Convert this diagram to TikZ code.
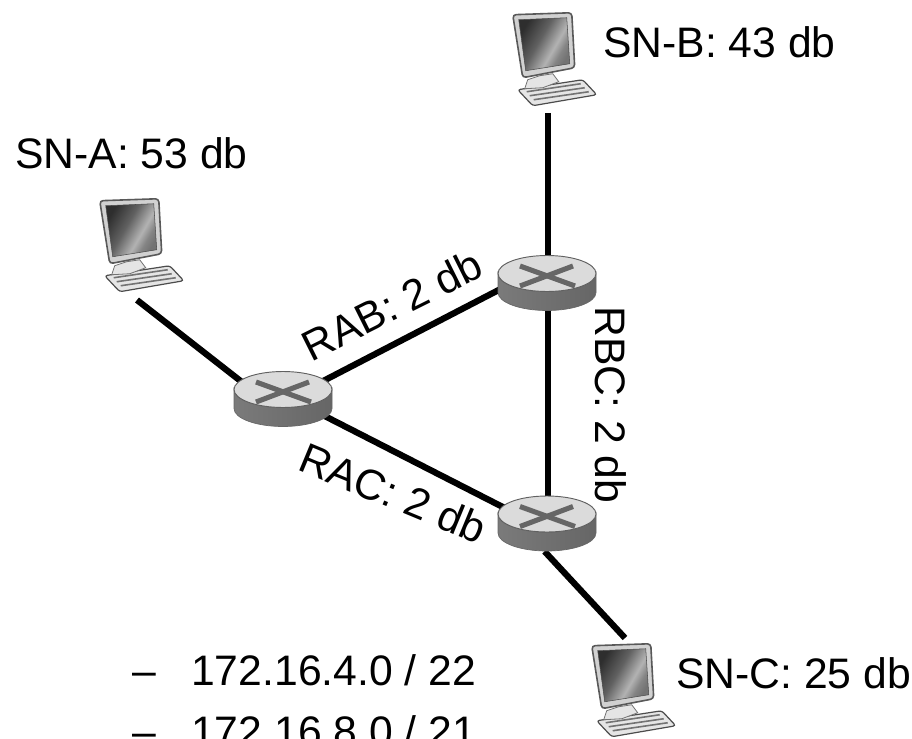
\documentclass[tikz,border=0pt]{standalone}
\usepackage{fontspec}
\setmainfont{Liberation Sans}
\usetikzlibrary{shapes.geometric}
\pgfdeclarehorizontalshading{screenshade}{100bp}{color(0bp)=(black!82); color(25bp)=(black!82); color(44bp)=(black!62); color(60bp)=(black!30); color(68bp)=(black!48); color(75bp)=(black!55); color(100bp)=(black!55)}
\tikzset{
  x=0.75pt,y=-0.75pt,
  link/.style={line width=4.7pt,black},
  lbl/.style={font=\fontsize{32pt}{36pt}\selectfont,inner sep=0pt,text=black},
  routerbox/.style={ellipse,minimum width=73.5pt,minimum height=41.5pt,inner sep=0pt},
  compbox/.style={rectangle,minimum width=63pt,minimum height=70.5pt,inner sep=0pt},
  pics/router/.style={code={
    \shade[left color=black!52,middle color=black!12,right color=black!60,draw=black!60,line width=.5pt]
      (-49,-9.5) -- (-49,9.5) arc[start angle=180,end angle=0,x radius=49,y radius=18] -- (49,-9.5)
      arc[start angle=0,end angle=180,x radius=49,y radius=18] -- cycle;
    \fill[black!14,draw=black!62,line width=.7pt] (0,-9.5) ellipse[x radius=49,y radius=18];
    \draw[black!60,line width=3.8pt] (-27,-17) -- (28,3);
    \draw[black!60,line width=3.8pt] (26,-17) -- (-27,3);
  }},
  pics/computer/.style={code={
    % keyboard
    \fill[black!10,draw=black!70,line width=.9pt,rounded corners=2pt] (5,78) -- (70,68) -- (84,83) -- (20,94) -- cycle;
    \draw[black!55,line width=1.2pt] (14,80) -- (68,72) (17,84) -- (72,76) (21,88) -- (76,80);
    % stand
    \fill[black!10,draw=black!55,line width=.6pt] (12,77) -- (15,68) -- (27,64) -- (40,62) -- (46,70) -- (30,76) -- cycle;
    % monitor
    \fill[black!18,draw=black!65,line width=1.2pt,rounded corners=2.5pt] (0,3) -- (59,1) -- (62,56) -- (10,66) -- cycle;
    \shade[shading=screenshade,shading angle=-30,draw=black!70,line width=.4pt]
      (6,8) -- (54,6) -- (57,52) -- (13,59) -- cycle;
  }}
}
\begin{document}
\begin{tikzpicture}
\useasboundingbox (0,0) rectangle (912,738);
\clip (0,0) rectangle (912,738);
\node[compbox] (cB) at (555,59) {};
\node[compbox] (cA) at (142,245) {};
\node[compbox] (cC) at (634,690) {};
\node[routerbox] (rA) at (283,399) {};
\node[routerbox] (rB) at (547,283) {};
\node[routerbox] (rC) at (547,523.5) {};
\coordinate (eB) at (548,113);
\coordinate (eA) at (137,300);
\coordinate (eC) at (625,638);
\pic at (cB.north west) {computer};
\pic at (cA.north west) {computer};
\pic at (cC.north west) {computer};
\draw[link] (eB) -- (eB |- rB.north);
\draw[link] (eA) -- (rA.158);
\draw[link] (eB |- rB.south) -- (eB |- rC.north);
\draw[link] (rA.24) -- (rB.188);
\draw[link] (rA.-22) -- (rC.160);
\draw[link] (rC.-95) -- (eC);
\pic at (rA) {router};
\pic at (rB) {router};
\pic at (rC) {router};
\node[lbl,anchor=base west] (tB) at (603,58) {SN-B: 43 db};
\node[lbl,anchor=base west] (tA) at (15,168) {SN-A: 53 db};
\node[lbl,anchor=base west] (tC) at (676,688) {SN-C: 25 db};
\node[lbl,rotate=26.5] (tAB) at (392,305) {RAB: 2 db};
\node[lbl,rotate=-22.5] (tAC) at (393,493) {RAC: 2 db};
\node[lbl,rotate=-90,anchor=base] (tBC) at (595,405) {RBC: 2 db};
\node[lbl,anchor=base west] (d1) at (132,685) {–};
\node[lbl,anchor=base west] (l1) at (191,685) {172.16.4.0 / 22};
\node[lbl,anchor=base west] (d2) at (132,746) {–};
\node[lbl,anchor=base west] (l2) at (191,746) {172.16.8.0 / 21};
\end{tikzpicture}
\end{document}
